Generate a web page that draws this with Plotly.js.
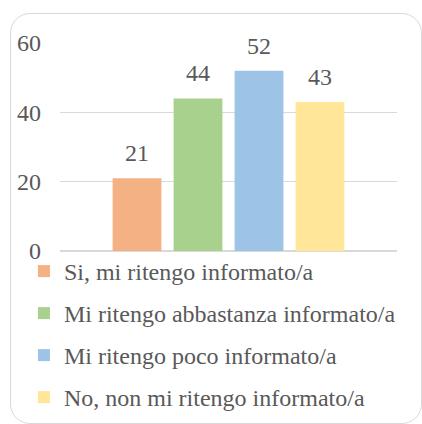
<!DOCTYPE html>
<html>
<head>
<meta charset="utf-8">
<script src="https://cdn.plot.ly/plotly-3.0.1.min.js"></script>
<style>
  html, body { margin: 0; padding: 0; background: #ffffff; }
  #wrap { position: relative; width: 422px; height: 424px; }
  #chart { width: 422px; height: 424px; }
  #frame { position: absolute; left: 10px; top: 13px; width: 412px; height: 411px;
           box-sizing: border-box; border: 1.5px solid #D9D9D9; border-radius: 20px;
           pointer-events: none; }
</style>
</head>
<body>
<div id="wrap">
  <div id="chart"></div>
  <div id="frame"></div>
</div>
<script>
const category = ['Risposte'];
const seriesNames = [
  'Si, mi ritengo informato/a',
  'Mi ritengo abbastanza informato/a',
  'Mi ritengo poco informato/a',
  'No, non mi ritengo informato/a'
];
const seriesValues = [21, 44, 52, 43];
const seriesColors = ['#F4B183', '#A9D18E', '#9DC3E6', '#FFE699'];
const yTicks = [0, 20, 40, 60];

const FONT = '"Liberation Serif", "Times New Roman", serif';
const TXT = '#595959';
const BARGAP = 0.276;
const GROUPGAP = 0.2;

const traces = seriesNames.map((name, i) => ({
  type: 'bar',
  name: name,
  x: category,
  y: [seriesValues[i]],
  marker: { color: seriesColors[i], line: { width: 0 } },
  legendgroup: 'g' + i,
  hoverinfo: 'name+y'
}));

// data labels placed above each bar using the group slot offsets
const slot = (1 - BARGAP) / seriesNames.length;
const annotations = seriesValues.map((v, i) => ({
  x: -(1 - BARGAP) / 2 + (i + 0.5) * slot,
  y: v,
  xref: 'x', yref: 'y',
  text: String(v),
  showarrow: false,
  xanchor: 'center', yanchor: 'bottom',
  yshift: 10,
  font: { family: FONT, size: 24, color: TXT }
}));

const layout = {
  width: 422, height: 424,
  margin: { l: 60, r: 25, t: 43, b: 173, pad: 0, autoexpand: false },
  paper_bgcolor: 'rgba(0,0,0,0)',
  plot_bgcolor: 'rgba(0,0,0,0)',
  font: { family: FONT, size: 24, color: TXT },
  barmode: 'group',
  bargap: BARGAP,
  bargroupgap: GROUPGAP,
  showlegend: true,
  legend: {
    orientation: 'v',
    x: -0.107, xanchor: 'left',
    yref: 'container',
    y: 0.4127, yanchor: 'top',
    font: { family: FONT, size: 24, color: TXT },
    tracegroupgap: 7.8,
    traceorder: 'grouped',
    bgcolor: 'rgba(0,0,0,0)'
  },
  xaxis: {
    type: 'category',
    showticklabels: false,
    showgrid: false,
    zeroline: false,
    showline: false,
    ticks: '',
    fixedrange: true
  },
  yaxis: {
    range: [0, 60],
    tickvals: yTicks,
    ticktext: yTicks.map(String),
    showgrid: true,
    gridcolor: '#D9D9D9',
    gridwidth: 1.3,
    zeroline: true,
    zerolinecolor: '#D9D9D9',
    zerolinewidth: 1.3,
    showline: false,
    ticks: '',
    ticklabelstandoff: 18,
    tickfont: { family: FONT, size: 24, color: TXT },
    fixedrange: true
  },
  annotations: annotations
};

Plotly.newPlot('chart', traces, layout, { displayModeBar: false, staticPlot: true });
</script>
</body>
</html>
